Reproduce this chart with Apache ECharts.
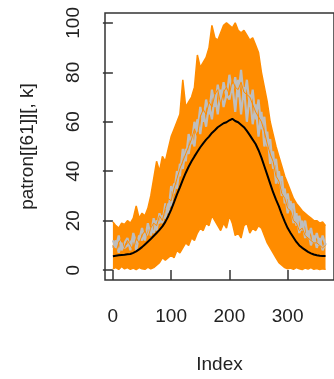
<!DOCTYPE html>
<html>
<head>
<meta charset="utf-8">
<script src="https://cdn.jsdelivr.net/npm/echarts@6/dist/echarts.min.js"></script>
<style>
html,body{margin:0;padding:0;background:#fff;}
#c{width:334px;height:379px;}
</style>
</head>
<body>
<div id="c"></div>
<script>
// x positions (Index)
var idx = [0,5,10,15,20,25,30,35,40,45,50,55,60,65,70,75,80,85,90,95,100,105,110,115,120,125,130,135,140,145,150,155,160,165,170,175,180,185,190,195,200,205,210,215,220,225,230,235,240,245,250,255,260,265,270,275,280,285,290,295,300,305,310,315,320,325,330,335,340,345,350,355,360,365];
// upper envelope of the orange bundle
var orangeUpper = [19.5,18,17,19,18.5,20,19,21,26,21,23,22,25,30,37,44,40,46,44,49,54,57,60,63,77,66,68,70,74,87,82,84,86,90,99,94,93,96,99,100,99,98,100,97,96,97,95,93,94,91,88,80,74,68,60,55,50,46,42,38,35,32,29,27,25.5,24,23,22,21,20,20,19,19.5,18];
// lower envelope of the orange bundle
var orangeLower = [0.5,1,0.3,1.5,0.5,1,0.3,0.8,0.2,1,0.5,0.3,1.2,0.5,1,2,3,5,4,5,6,5,8,7,9,11,10,13,12,15,17,16,19,18,22,20,18,16,19,17,22,19,14,15,13,18,19,15,17,16,18,17,14,11,9,7,5,3,2,1,0.5,0.8,0.3,1,0.5,0.2,0.8,0.4,1,0.3,0.6,0.2,0.5,0.3];
// gray series
var gray1 = [12,9,14,8,11,13,8,15,11,12,17,12,19,14,21,16,23,19,27,23,34,31,40,38,49,44,55,51,60,56,66,60,69,63,73,66,75,68,76,70,79,72,78,70,81,69,77,66,73,61,69,57,62,50,53,41,45,35,38,27,31,24,27,18,22,16,20,13,17,11,15,10,14,10];
var gray2 = [9,12,7,11,9,10,11,13,8,14,12,15,14,17,15,20,19,22,21,27,26,35,33,43,41,49,47,54,50,61,55,64,58,67,61,71,63,73,66,71,69,75,64,77,63,74,60,71,59,67,54,64,50,56,43,48,35,40,30,33,23,28,19,23,15,20,13,16,10,14,9,13,8,11];
// one orange run drawn over the gray ones
var orangeMid = [10,7,11,13,9,12,10,8,13,11,14,16,13,17,19,18,22,20,25,29,28,33,37,41,44,47,50,53,57,54,62,65,63,68,66,71,73,67,72,74,71,77,74,73,76,72,71,70,67,64,62,60,56,51,47,44,38,36,31,29,25,24,20,19,16,17,14,13,12,11,11,10,9,10];
// mean (black)
var meanLine = [5.6,5.8,6.0,6.1,6.2,6.4,6.5,7.0,7.6,8.4,9.3,10.4,11.5,12.6,13.8,15.0,16.3,17.7,19.5,21.8,24.5,27.5,30.6,33.5,36.5,39.3,41.8,44.0,46.0,47.9,49.7,51.3,52.8,54.0,55.5,56.6,57.8,58.6,59.4,59.8,60.6,61.2,60.3,59.8,58.8,57.8,56.3,54.6,52.8,51.0,48.5,45.5,42.0,38.5,35.0,31.5,28.5,25.8,22.5,19.6,17.0,15.0,13.2,11.4,10.0,9.0,8.2,7.4,6.8,6.3,6.0,5.8,5.7,5.7];
var xTicks = [0,100,200,300];
var yTicks = [0,20,40,60,80,100];

function pairs(v){ return idx.map(function(x,i){ return [x, v[i]]; }); }

var FONT = 'Liberation Sans, Arial, Helvetica, sans-serif';
var ORANGE = '#FF8C00';
var chart = echarts.init(document.getElementById('c'), null, {renderer:'canvas'});
chart.setOption({
  animation:false,
  backgroundColor:'#fff',
  grid:{left:105, top:13, width:237, height:271, show:true, borderColor:'#333', borderWidth:1.5, backgroundColor:'transparent'},
  xAxis:{
    type:'value', min:-13.56, max:379.56,
    name:'Index', nameLocation:'middle', nameGap:75,
    nameTextStyle:{fontFamily:FONT, fontSize:19, color:'#222'},
    axisLine:{show:false},
    splitLine:{show:false},
    axisTick:{show:true, length:10, lineStyle:{color:'#333', width:1.5}, customValues:xTicks},
    axisLabel:{fontFamily:FONT, fontSize:19, color:'#222', margin:27, customValues:xTicks}
  },
  yAxis:{
    type:'value', min:-4, max:104,
    name:'patron[[61]][, k]', nameLocation:'middle', nameGap:68, nameRotate:90,
    nameTextStyle:{fontFamily:FONT, fontSize:19, color:'#222'},
    axisLine:{show:false},
    splitLine:{show:false},
    axisTick:{show:true, length:10, lineStyle:{color:'#333', width:1.5}, customValues:yTicks},
    axisLabel:{fontFamily:FONT, fontSize:19, color:'#222', margin:22, rotate:90, customValues:yTicks}
  },
  series:[
    {type:'line', data:pairs(orangeUpper), symbol:'none', lineStyle:{color:ORANGE, width:1.5},
     areaStyle:{color:ORANGE, opacity:1, origin:0}, z:2},
    {type:'line', data:pairs(orangeLower), symbol:'none', lineStyle:{color:ORANGE, width:1.5},
     areaStyle:{color:'#ffffff', opacity:1, origin:0}, z:3},
    {type:'line', data:pairs(gray2), symbol:'none', lineStyle:{color:'#BEBEBE', width:2.2}, z:4},
    {type:'line', data:pairs(gray1), symbol:'none', lineStyle:{color:'#BEBEBE', width:2.2}, z:4},
    {type:'line', data:pairs(orangeMid), symbol:'none', lineStyle:{color:ORANGE, width:1}, z:4},
    {type:'line', data:pairs(meanLine), symbol:'none', lineStyle:{color:'#000', width:2}, z:5}
  ]
});
</script>
</body>
</html>
